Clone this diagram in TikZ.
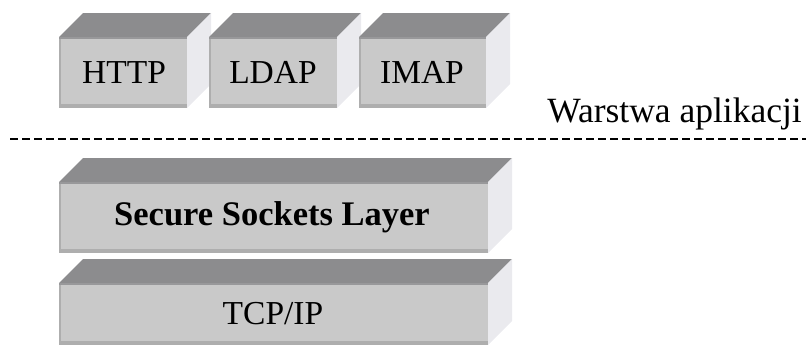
\documentclass[tikz,border=0pt]{standalone}
\usepackage{fontspec}
\setmainfont{Liberation Serif}
\definecolor{topc}{RGB}{140,140,142}
\definecolor{frontc}{RGB}{201,201,201}
\definecolor{sidec}{RGB}{234,234,238}
\definecolor{edgec}{RGB}{174,174,174}
\newcommand\slab[4]{% left x, front top y, right x, bottom y (pixels)
  \fill[topc] (#1,#2) -- ({#1+24},{#2-24}) -- ({#3+24},{#2-24}) -- (#3,#2) -- cycle;
  \fill[sidec] (#3,#2) -- ({#3+24},{#2-24}) -- ({#3+24},{#4-24}) -- (#3,#4) -- cycle;
  \fill[frontc] (#1,#2) rectangle (#3,#4);
  \fill[edgec] (#1,{#4-4}) rectangle (#3,#4);
  \fill[edgec] (#1,#2) rectangle ({#1+1.5},#4);
  \fill[topc!80!frontc] (#1,#2) rectangle (#3,{#2+1.5});
}
\tikzset{
  lbl/.style={font=\fontsize{33.5}{36}\selectfont, inner sep=0pt, anchor=center},
  sep/.style={dash pattern=on 8pt off 4pt, line width=1.3pt, black}
}
\begin{document}
\begin{tikzpicture}[x=1pt,y=-1pt]
\useasboundingbox (0,0) rectangle (810,349);
\slab{59}{37}{187}{108}
\slab{209}{37}{337}{108}
\slab{359}{37}{486}{108}
\slab{59}{182}{488}{253}
\slab{59}{283}{488}{345}
\node[lbl] (http) at (124,72.5) {HTTP};
\node[lbl] (ldap) at (273,72.5) {LDAP};
\node[lbl] (imap) at (422,72.5) {IMAP};
\node[lbl, font=\fontsize{34.5}{36}\bfseries\selectfont] (ssl) at (272,217.5) {Secure Sockets Layer};
\node[lbl] (tcp) at (273,314) {TCP/IP};
\node[lbl, anchor=base east, font=\fontsize{35.5}{38}\selectfont] (app) at (802,122) {Warstwa aplikacji};
\coordinate (dl) at (10,139);
\coordinate (dr) at (806,139);
\draw[sep] (dl) -- (dr);
\end{tikzpicture}
\end{document}
